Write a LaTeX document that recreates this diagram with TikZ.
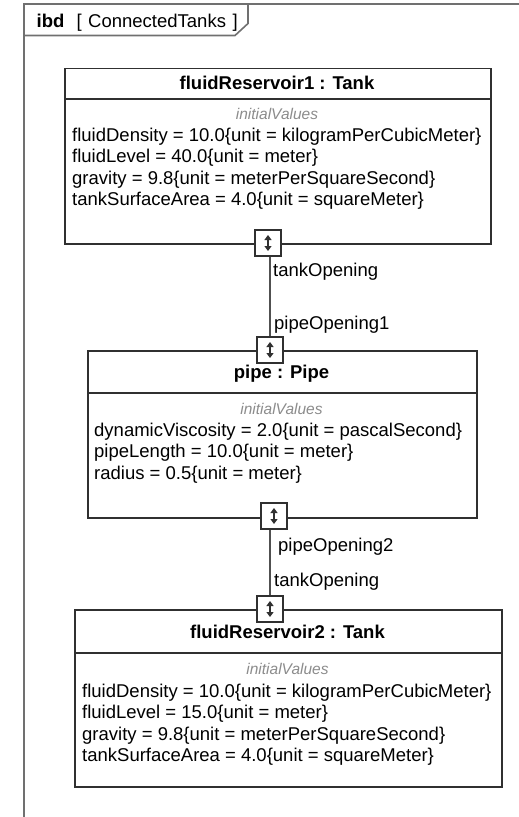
\documentclass[tikz,border=0pt]{standalone}
\usepackage{fontspec}
\setmainfont{Liberation Sans}
\usetikzlibrary{arrows.meta}
\definecolor{edgecol}{HTML}{303030}
\definecolor{framecol}{HTML}{707070}
\definecolor{linkcol}{HTML}{505050}
\definecolor{kwcol}{HTML}{8C8C8C}
\tikzset{
  block/.style={draw=edgecol, line width=1.5pt, fill=white, anchor=north west, inner sep=0pt},
  sepline/.style={draw=edgecol, line width=1.5pt},
  title/.style={font=\fontsize{18.5}{21.5}\selectfont\bfseries, anchor=base, inner sep=0pt},
  kw/.style={font=\fontsize{15.5}{18}\selectfont\itshape, text=kwcol, anchor=base, inner sep=0pt},
  attr/.style={font=\fontsize{18.5}{21.5}\selectfont, anchor=base west, inner sep=0pt},
  lbl/.style={font=\fontsize{18.5}{21.5}\selectfont, anchor=base west, inner sep=0pt},
  hdr/.style={font=\fontsize{18.5}{21.5}\selectfont, anchor=base west, inner sep=0pt},
  port/.style={draw=edgecol, line width=1.5pt, fill=white, minimum size=26pt, inner sep=0pt,
    path picture={
      \draw[edgecol, line width=1.2pt, {Triangle[length=5pt,width=7pt]}-{Triangle[length=5pt,width=7pt]}]
        ([yshift=8pt]path picture bounding box.center) -- ([yshift=-8pt]path picture bounding box.center);
    }},
  link/.style={draw=linkcol, line width=1.5pt},
}
\begin{document}
\begin{tikzpicture}[x=1pt, y=-1pt]
\useasboundingbox (0,0) rectangle (519,817);

% diagram frame with its name tab
\draw[framecol, line width=1.6pt] (24,817) -- (24,4) -- (519,4);
\draw[framecol, line width=1.6pt] (24,35.5) -- (235,35.5) -- (248,23.5) -- (248,4);
\node[hdr, font=\fontsize{18.5}{21.5}\selectfont\bfseries] (kind) at (36.5,27.5) {ibd};
\node[hdr] (lbrk) at (76.5,27.5) {[};
\node[hdr] (dname) at (88,27.5) {ConnectedTanks};
\node[hdr] (rbrk) at (232.5,27.5) {]};

% fluidReservoir1 : Tank
\node[block, minimum width=426pt, minimum height=175.5pt] (tank1) at (64,67.5) {};
\draw[sepline] (64,99) -- (490,99);
\node[title] (tank1t) at (277,89.5) {fluidReservoir1 : Tank};
\node[kw] (tank1k) at (277,119) {initialValues};
\node[attr] (tank1a) at (72,141) {fluidDensity = 10.0\{unit = kilogramPerCubicMeter\}};
\node[attr] (tank1b) at (72,162.5) {fluidLevel = 40.0\{unit = meter\}};
\node[attr] (tank1c) at (72,184) {gravity = 9.8\{unit = meterPerSquareSecond\}};
\node[attr] (tank1d) at (72,205.5) {tankSurfaceArea = 4.0\{unit = squareMeter\}};

% pipe : Pipe
\node[block, minimum width=389pt, minimum height=167pt] (pipe) at (87,350) {};
\draw[sepline] (87,393) -- (476,393);
\node[title] (pipet) at (281.5,378.5) {pipe : Pipe};
\node[kw] (pipek) at (281.5,414) {initialValues};
\node[attr] (pipea) at (94,436) {dynamicViscosity = 2.0\{unit = pascalSecond\}};
\node[attr] (pipeb) at (94,457.5) {pipeLength = 10.0\{unit = meter\}};
\node[attr] (pipec) at (94,479) {radius = 0.5\{unit = meter\}};

% fluidReservoir2 : Tank
\node[block, minimum width=427pt, minimum height=177pt] (tank2) at (74,609) {};
\draw[sepline] (74,653) -- (501,653);
\node[title] (tank2t) at (287.5,638.5) {fluidReservoir2 : Tank};
\node[kw] (tank2k) at (287.5,674) {initialValues};
\node[attr] (tank2a) at (82,697) {fluidDensity = 10.0\{unit = kilogramPerCubicMeter\}};
\node[attr] (tank2b) at (82,718.5) {fluidLevel = 15.0\{unit = meter\}};
\node[attr] (tank2c) at (82,740) {gravity = 9.8\{unit = meterPerSquareSecond\}};
\node[attr] (tank2d) at (82,761.5) {tankSurfaceArea = 4.0\{unit = squareMeter\}};

% connectors between the ports
\node[port] (p1) at (268,243) {};
\node[port] (p2) at (270,350) {};
\node[port] (p3) at (274,516) {};
\node[port] (p4) at (270,609) {};
\draw[link] (p1.south -| p2.north) -- (p2.north);
\draw[link] (p3.south -| p4.north) -- (p4.north);

% port names
\node[lbl] (l1) at (273,276) {tankOpening};
\node[lbl] (l2) at (274,329) {pipeOpening1};
\node[lbl] (l3) at (278,551) {pipeOpening2};
\node[lbl] (l4) at (274,586) {tankOpening};
\end{tikzpicture}
\end{document}
